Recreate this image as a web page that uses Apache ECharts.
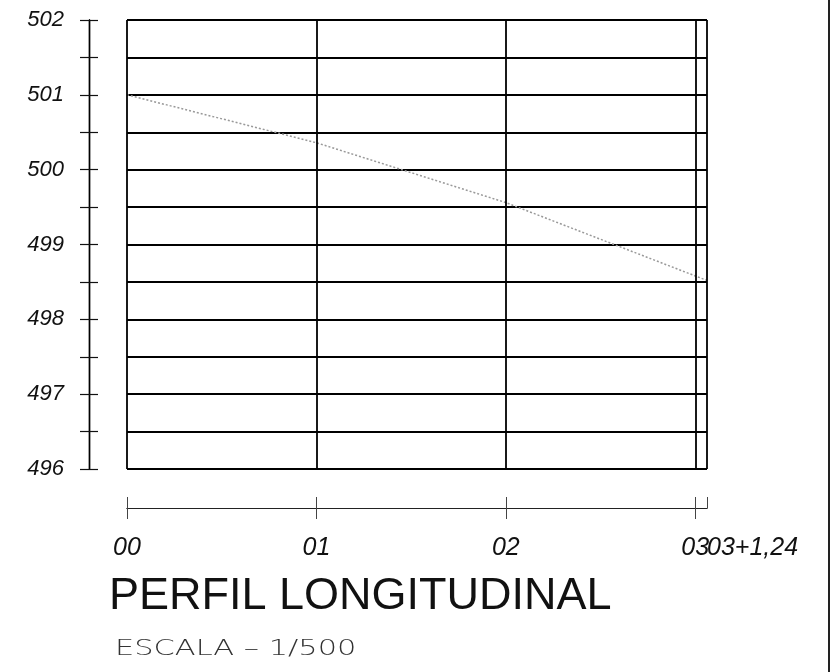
<!DOCTYPE html>
<html>
<head>
<meta charset="utf-8">
<script src="https://cdn.jsdelivr.net/npm/echarts@6/dist/echarts.min.js"></script>
<style>
html,body{margin:0;padding:0;background:#fff;}
#chart{width:834px;height:672px;}
</style>
</head>
<body>
<div id="chart"></div>
<script>
// Stations (m) and their labels
var stations = [0, 20, 40, 60, 61.24];
var stationLabels = ['00', '01', '02', '03', '03+1,24'];
// Terrain elevation at each station (m)
var elevations = [501.00, 500.36, 499.56, 498.58, 498.52];
// Elevation axis
var yMin = 496, yMax = 502, yStep = 0.5;
var titleText = 'PERFIL LONGITUDINAL';
var scaleText = 'ESCALA – 1/500';

var lineData = stations.map(function (s, i) { return [s, elevations[i]]; });
var xMax = stations[stations.length - 1];
function stationLabel(v) {
  for (var i = 0; i < stations.length; i++) {
    if (Math.abs(stations[i] - v) < 1e-6) return stationLabels[i];
  }
  return '';
}
// regular stations only / final (partial) station only
function regularLabel(v) { return Math.abs(v - xMax) < 1e-6 ? '' : stationLabel(v); }
function finalLabel(v) { return Math.abs(v - xMax) < 1e-6 ? stationLabel(v) : ''; }

var chart = echarts.init(document.getElementById('chart'), null, {renderer: 'canvas'});
var baseX = {
  type: 'value', min: 0, max: xMax, interval: 20,
  axisLine: {show: false}, axisTick: {show: false}, axisLabel: {show: false}, splitLine: {show: false}
};
var labelFont = {fontFamily: 'Liberation Sans', fontStyle: 'italic', fontSize: 25, color: '#111'};
var lowerAxis = function (inside, fmt, isFinal) {
  var lab = {show: false};
  if (fmt) {
    lab = Object.assign({
      show: true, margin: 28, formatter: fmt,
      showMinLabel: true, showMaxLabel: !!isFinal, hideOverlap: false
    }, labelFont);
    if (isFinal) lab.alignMaxLabel = 'left';
  }
  return {
    type: 'value', min: 0, max: xMax, interval: 20, position: 'bottom', offset: 39,
    axisLine: {show: true, onZero: false, lineStyle: {color: '#222', width: 1}},
    axisTick: {show: true, inside: inside, length: 11, lineStyle: {color: '#444', width: 1}},
    axisLabel: lab,
    splitLine: {show: false}
  };
};
var leftAxis = function (inside, labels) {
  return {
    type: 'value', min: yMin, max: yMax, interval: yStep, position: 'left', offset: 38,
    axisLine: {show: true, onZero: false, lineStyle: {color: '#000', width: 1.4}},
    axisTick: {show: true, inside: inside, length: 9, lineStyle: {color: '#111', width: 1.2}},
    axisLabel: labels ? {
      show: true, margin: 25,
      formatter: function (v) { return Math.abs(v - Math.round(v)) < 1e-6 ? String(Math.round(v)) : ''; },
      fontFamily: 'Liberation Sans', fontStyle: 'italic', fontSize: 22, color: '#111'
    } : {show: false},
    splitLine: labels ? {show: true, lineStyle: {color: '#000', width: 1.8}} : {show: false}
  };
};

chart.setOption({
  backgroundColor: '#fff',
  animation: false,
  grid: {left: 127, top: 20, width: 580, height: 449},
  title: [
    {text: titleText, left: 104, top: 569,
     textStyle: {fontFamily: 'Liberation Sans', fontWeight: 'normal', fontSize: 45, color: '#111'}}
  ],
  xAxis: [baseX, lowerAxis(false, regularLabel, false), lowerAxis(true, finalLabel, true)],
  yAxis: [leftAxis(false, true), leftAxis(true, false)],
  graphic: [
    {type: 'line', shape: {x1: 829, y1: 0, x2: 829, y2: 672}, style: {stroke: '#222', lineWidth: 2}},
    {type: 'text', x: 115, y: 639, scaleX: 1.45, scaleY: 1,
     style: {text: scaleText, fontFamily: 'DejaVu Sans', fontWeight: 200, fontSize: 21, fill: '#333'}}
  ],
  series: [{
    type: 'line', xAxisIndex: 0, yAxisIndex: 0, data: lineData,
    symbol: 'none', silent: true,
    lineStyle: {color: '#999', width: 1.5, type: [2, 2]},
    markLine: {
      silent: true, symbol: 'none', label: {show: false},
      lineStyle: {color: '#000', width: 1.8, type: 'solid'},
      data: stations.map(function (s) { return {xAxis: s}; })
    }
  }]
});
</script>
</body>
</html>
